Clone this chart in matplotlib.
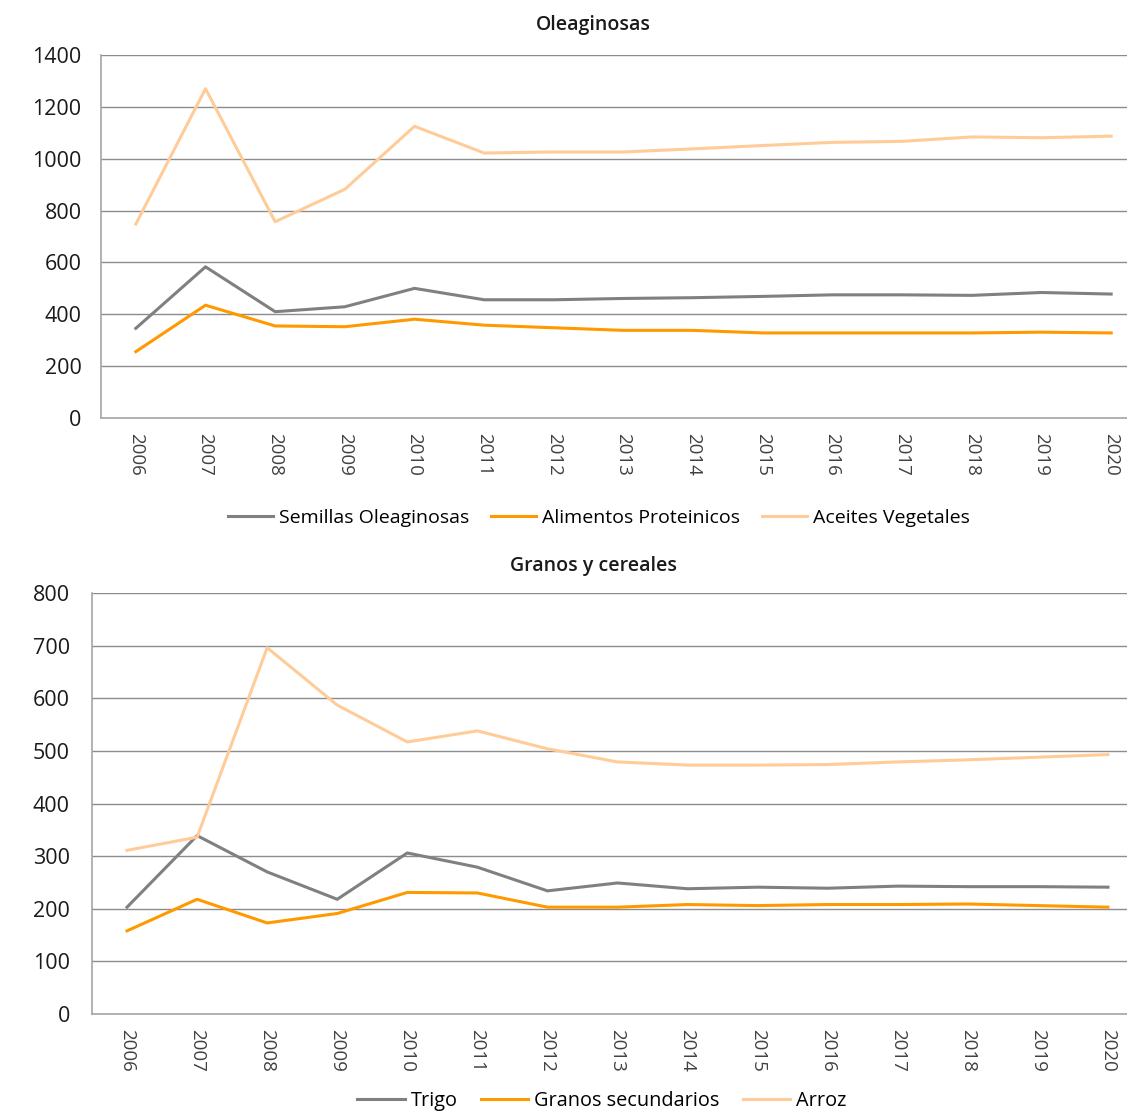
import matplotlib
matplotlib.use("Agg")
import matplotlib.pyplot as plt

plt.rcParams['font.family'] = ['Open Sans', 'DejaVu Sans']

years = ["2006", "2007", "2008", "2009", "2010", "2011", "2012", "2013",
         "2014", "2015", "2016", "2017", "2018", "2019", "2020"]

# Oleaginosas
semillas = [346, 583, 410, 429, 500, 456, 456, 461, 464, 469, 475, 475, 473, 484, 478]
alimentos = [256, 435, 355, 352, 381, 358, 348, 338, 338, 328, 328, 328, 328, 331, 328]
aceites = [748, 1270, 757, 882, 1125, 1022, 1026, 1026, 1038, 1051, 1063, 1067, 1084, 1081, 1087]

# Granos y cereales
trigo = [203, 339, 270, 218, 306, 279, 234, 249, 238, 241, 239, 243, 242, 242, 241]
granos_sec = [158, 218, 173, 191, 231, 230, 203, 203, 208, 206, 208, 208, 209, 206, 203]
arroz = [311, 336, 696, 587, 517, 538, 504, 479, 473, 473, 474, 479, 483, 488, 493]

C_GRAY = "#808080"
C_ORANGE = "#ff9900"
C_LIGHT = "#ffcc99"
GRID = "#8c8c8c"
SPINE = "#a6a6a6"

fig = plt.figure(figsize=(11.27, 11.15), dpi=100)

def style_axes(ax, ymax, step, pad):
    ax.set_xlim(-0.5, len(years) - 0.5)
    ax.set_ylim(0, ymax)
    ax.set_yticks(range(0, ymax + 1, step))
    ax.set_xticks(range(len(years)))
    ax.set_xticklabels(years, rotation=-90, fontsize=13.5, color="#404040")
    ax.tick_params(axis='y', labelsize=15.5, colors="#1a1a1a", length=0, pad=pad)
    ax.tick_params(axis='x', length=0, pad=11)
    ax.grid(axis='y', color=GRID, linewidth=1.0)
    ax.set_axisbelow(True)
    for s in ['top', 'right']:
        ax.spines[s].set_visible(False)
    ax.spines['left'].set_color(SPINE)
    ax.spines['bottom'].set_color(SPINE)
    ax.spines['left'].set_linewidth(1.2)
    ax.spines['bottom'].set_linewidth(1.2)

x = range(len(years))

# top chart
ax1 = fig.add_axes([101 / 1127, 1 - 418 / 1115, 1045 / 1127, 363 / 1115])
l1, = ax1.plot(x, semillas, color=C_GRAY, lw=2.2, label="Semillas Oleaginosas")
l2, = ax1.plot(x, alimentos, color=C_ORANGE, lw=2.2, label="Alimentos Proteinicos")
l3, = ax1.plot(x, aceites, color=C_LIGHT, lw=2.2, label="Aceites Vegetales")
style_axes(ax1, 1400, 200, 14)
fig.text(593 / 1127, 1 - 25 / 1115, "Oleaginosas", ha='center', va='center',
         fontsize=14, color="#1a1a1a", fontweight='semibold')
fig.legend(handles=[l1, l2, l3], loc='center', bbox_to_anchor=(599 / 1127, 1 - 518 / 1115),
           ncol=3, frameon=False, fontsize=14, handlelength=2.3, handletextpad=0.3,
           columnspacing=1.15)

# bottom chart
ax2 = fig.add_axes([92 / 1127, 1 - 1014 / 1115, 1051 / 1127, 421 / 1115])
m1, = ax2.plot(x, trigo, color=C_GRAY, lw=2.2, label="Trigo")
m2, = ax2.plot(x, granos_sec, color=C_ORANGE, lw=2.2, label="Granos secundarios")
m3, = ax2.plot(x, arroz, color=C_LIGHT, lw=2.2, label="Arroz")
style_axes(ax2, 800, 100, 16)
fig.text(593 / 1127, 1 - 566 / 1115, "Granos y cereales", ha='center', va='center',
         fontsize=14, color="#1a1a1a", fontweight='semibold')
fig.legend(handles=[m1, m2, m3], loc='center', bbox_to_anchor=(602 / 1127, 1 - 1101 / 1115),
           ncol=3, frameon=False, fontsize=14.3, handlelength=2.4, handletextpad=0.3,
           columnspacing=1.15)

fig.savefig("out.png", dpi=100)
